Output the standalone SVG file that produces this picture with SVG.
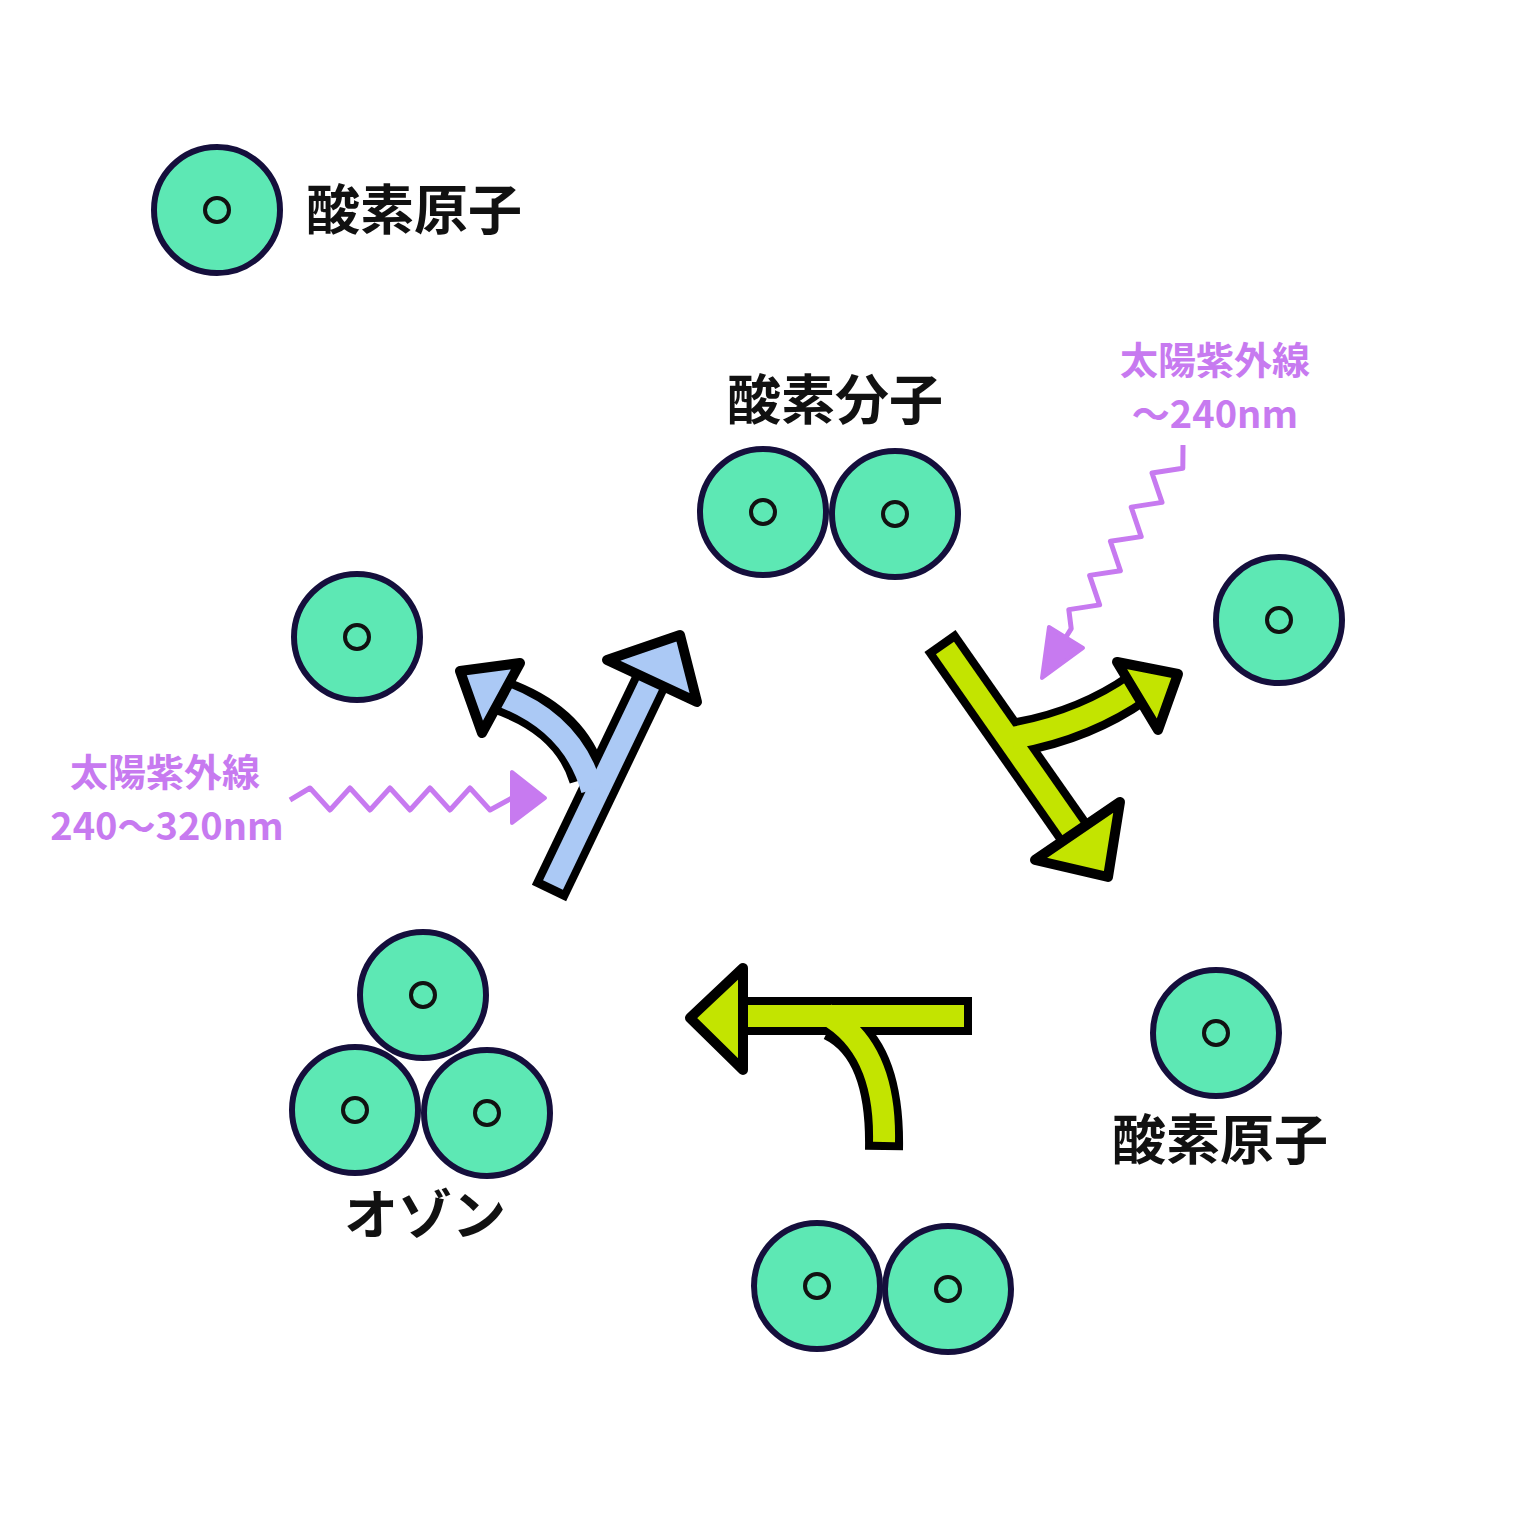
<svg xmlns="http://www.w3.org/2000/svg" width="1536" height="1536" viewBox="0 0 1536 1536">
<style>
.atom{fill:#5de8b4;stroke:#150f3c;stroke-width:6}
.nuc{fill:none;stroke:#111;stroke-width:4}
.lbl{font-family:"Noto Sans CJK JP",sans-serif;font-weight:bold;font-size:54px;fill:#111;text-anchor:middle}
.uv{font-family:"Noto Sans CJK JP",sans-serif;font-weight:bold;font-size:38px;fill:#c77af0;text-anchor:middle}
.ob{fill:none;stroke:#000;stroke-width:38;stroke-linecap:butt}
.fb{fill:none;stroke:#abc9f5;stroke-width:22;stroke-linecap:butt}
.fg{fill:none;stroke:#c3e400;stroke-width:22;stroke-linecap:butt}
.hb{fill:#abc9f5;stroke:#000;stroke-width:10;stroke-linejoin:round}
.hg{fill:#c3e400;stroke:#000;stroke-width:10;stroke-linejoin:round}
.zz{fill:none;stroke:#c77af0;stroke-width:5;stroke-linejoin:round}
</style>
<rect width="1536" height="1536" fill="#fff"/>
<g id="legend"><circle class="atom" cx="217" cy="210" r="63"/><circle class="nuc" cx="217" cy="210" r="12"/><text class="lbl" x="414" y="230">酸素原子</text></g>
<g id="o2-top"><circle class="atom" cx="763" cy="512" r="63"/><circle class="nuc" cx="763" cy="512" r="12"/><circle class="atom" cx="895" cy="514" r="63"/><circle class="nuc" cx="895" cy="514" r="12"/><text class="lbl" x="835" y="420">酸素分子</text></g>
<g id="o-left"><circle class="atom" cx="357" cy="637" r="63"/><circle class="nuc" cx="357" cy="637" r="12"/></g>
<g id="o-right"><circle class="atom" cx="1279" cy="620" r="63"/><circle class="nuc" cx="1279" cy="620" r="12"/></g>
<g id="o-rb"><circle class="atom" cx="1216" cy="1033" r="63"/><circle class="nuc" cx="1216" cy="1033" r="12"/><text class="lbl" x="1220" y="1160">酸素原子</text></g>
<g id="ozone"><circle class="atom" cx="423" cy="995" r="63"/><circle class="nuc" cx="423" cy="995" r="12"/><circle class="atom" cx="355" cy="1110" r="63"/><circle class="nuc" cx="355" cy="1110" r="12"/><circle class="atom" cx="487" cy="1113" r="63"/><circle class="nuc" cx="487" cy="1113" r="12"/><text class="lbl" x="425" y="1235">オゾン</text></g>
<g id="o2-bottom"><circle class="atom" cx="817" cy="1286" r="63"/><circle class="nuc" cx="817" cy="1286" r="12"/><circle class="atom" cx="948" cy="1289" r="63"/><circle class="nuc" cx="948" cy="1289" r="12"/></g>
<g id="uv-right"><text class="uv" x="1215" y="374">太陽紫外線</text><text class="uv" x="1215" y="428">〜240nm</text></g>
<g id="uv-left"><text class="uv" x="165" y="786">太陽紫外線</text><text class="uv" x="167" y="840">240〜320nm</text></g>
<g id="connectors">
<polyline class="zz" points="1183,445 1182.8,468.3 1152,473 1162,502.4 1131.2,507.1 1141.2,536.6 1110.4,541.3 1120.4,570.8 1089.6,575.4 1099.6,604.9 1068.8,609.6 1071.2,628.6 1066,637"/>
<polygon points="1042,678 1083,648 1049,627" fill="#c77af0" stroke="#c77af0" stroke-width="4" stroke-linejoin="round"/>
<polyline class="zz" points="290,800 310,788 330,810 350,788 370,810 390,788 410,810 430,788 450,810 470,788 490,810 512,798"/>
<polygon points="512,772 512,823 545,798" fill="#c77af0" stroke="#c77af0" stroke-width="4" stroke-linejoin="round"/>
<path class="ob" d="M549,893 L657,668"/>
<path class="ob" d="M588,778 Q570,718 495,694"/>
<path class="fb" d="M553,885 L659,664"/>
<path class="fb" d="M592,790 Q572,718 490,692"/>
<polygon class="hb" points="680,635 607,660 697,702"/>
<polygon class="hb" points="460,671 520,663 482,733"/>
<path class="ob" d="M940,641 L1080,841"/>
<path class="ob" d="M1018,737 Q1085,725 1138,688"/>
<path class="fg" d="M945,648 L1082,844"/>
<path class="fg" d="M1012,738 Q1085,725 1140,686"/>
<polygon class="hg" points="1108,877 1120,802 1035,860"/>
<polygon class="hg" points="1178,674 1117,662 1158,730"/>
<path class="ob" d="M972,1016 L738,1016"/>
<path class="ob" d="M884,1150 Q886,1048 832,1022"/>
<path class="fg" d="M964,1016 L736,1016"/>
<path class="fg" d="M884,1142 Q886,1048 826,1014"/>
<polygon class="hg" points="690,1018 743,968 743,1070"/>
</g>
</svg>
